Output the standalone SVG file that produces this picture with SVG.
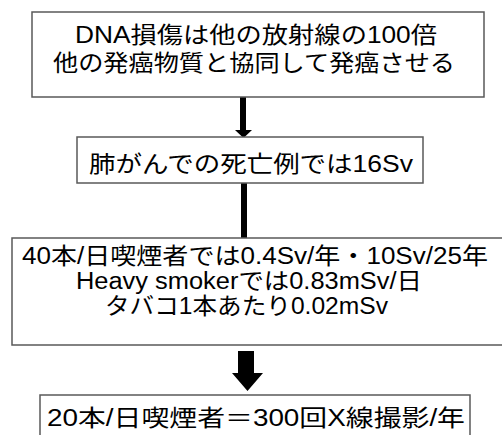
<svg xmlns="http://www.w3.org/2000/svg" width="502" height="435" viewBox="0 0 502 435">
<style>
.box{fill:#fff;stroke:#595959;stroke-width:1.5}
.t{font-family:"Liberation Sans","Noto Sans CJK JP",sans-serif;font-size:23px;fill:#000;text-anchor:middle}
</style>
<rect width="502" height="435" fill="#fff"/>
<g id="connectors">
<rect x="240" y="97" width="6" height="33" fill="#000"/>
<polygon points="235,130 252,130 243.5,138" fill="#000"/>
<rect x="241" y="183" width="6" height="57" fill="#000"/>
<polygon points="238,239 251,239 244.5,246" fill="#000"/>
<polygon points="238,351 254,351 254,373 263,373 247.5,391 232,373 238,373" fill="#000"/>
</g>
<g id="n1">
<rect class="box" x="32" y="12" width="452" height="85"/>
<text class="t" x="256" y="43" textLength="362" lengthAdjust="spacingAndGlyphs">DNA損傷は他の放射線の100倍</text>
<text class="t" x="254" y="71" textLength="402" lengthAdjust="spacingAndGlyphs">他の発癌物質と協同して発癌させる</text>
</g>
<g id="n2">
<rect class="box" x="77" y="137" width="346" height="46"/>
<text class="t" x="251" y="172" textLength="324" lengthAdjust="spacingAndGlyphs">肺がんでの死亡例では16Sv</text>
</g>
<g id="n3">
<rect class="box" x="12" y="238" width="500" height="107"/>
<text class="t" x="255" y="264" textLength="466" lengthAdjust="spacingAndGlyphs">40本/日喫煙者では0.4Sv/年・10Sv/25年</text>
<text class="t" x="249" y="289" textLength="346" lengthAdjust="spacingAndGlyphs">Heavy smokerでは0.83mSv/日</text>
<text class="t" x="246.5" y="314" textLength="283" lengthAdjust="spacingAndGlyphs">タバコ1本あたり0.02mSv</text>
</g>
<g id="n4">
<rect class="box" x="40" y="395" width="430" height="50"/>
<text class="t" x="256" y="426" textLength="418" lengthAdjust="spacingAndGlyphs">20本/日喫煙者＝300回X線撮影/年</text>
</g>
</svg>
